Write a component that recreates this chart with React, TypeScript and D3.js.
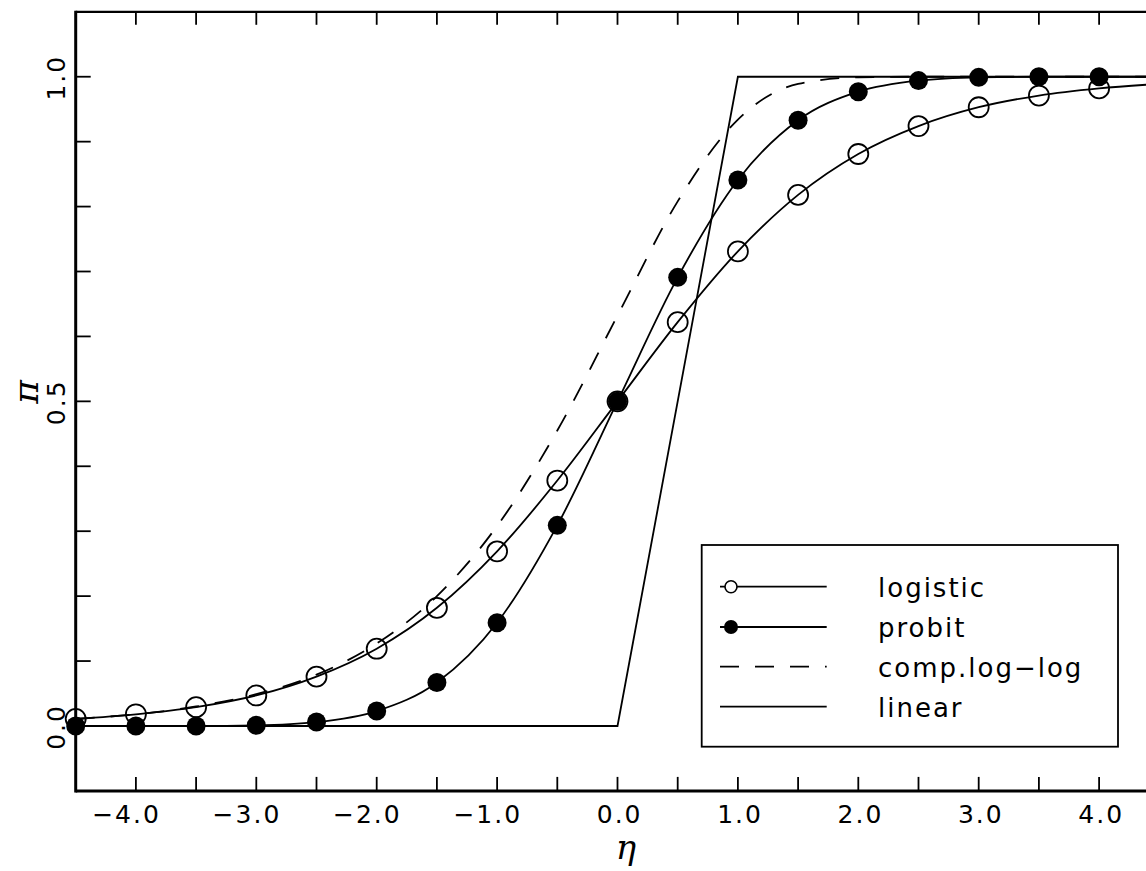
import React from 'react'
import * as d3 from 'd3'

// values, eta = -4.5 .. 4.5 in steps of 0.5
const etaValues = [-4.5, -4.0, -3.5, -3.0, -2.5, -2.0, -1.5, -1.0, -0.5, 0.0, 0.5, 1.0, 1.5, 2.0, 2.5, 3.0, 3.5, 4.0, 4.5]
const logisticValues = [0.011, 0.018, 0.029, 0.047, 0.076, 0.119, 0.182, 0.269, 0.378, 0.5, 0.622, 0.731, 0.818, 0.881, 0.924, 0.953, 0.971, 0.982, 0.989]
const probitValues = [0.0, 0.0, 0.0, 0.001, 0.006, 0.023, 0.067, 0.159, 0.309, 0.5, 0.691, 0.841, 0.933, 0.977, 0.994, 0.999, 1.0, 1.0, 1.0]
const cloglogValues = [0.011, 0.018, 0.030, 0.049, 0.079, 0.127, 0.200, 0.308, 0.455, 0.632, 0.808, 0.934, 0.989, 0.999, 1.0, 1.0, 1.0, 1.0, 1.0]
const linearEta = [-4.5, 0.0, 1.0, 4.5]
const linearValues = [0.0, 0.0, 1.0, 1.0]

// markers are drawn only up to 4.0 (4.5 falls outside the picture)
const markerEta = etaValues.filter(e => e <= 4.0)

const xMinorTicks = [-4.0, -3.5, -3.0, -2.5, -2.0, -1.5, -1.0, -0.5, 0.0, 0.5, 1.0, 1.5, 2.0, 2.5, 3.0, 3.5, 4.0]
const xLabelTicks = [-4, -3, -2, -1, 0, 1, 2, 3, 4]
const yMinorTicks = [0.0, 0.1, 0.2, 0.3, 0.4, 0.5, 0.6, 0.7, 0.8, 0.9, 1.0]
const yLabelTicks = [0.0, 0.5, 1.0]

const legendItems = ['logistic', 'probit', 'comp.log\u2212log', 'linear']

const W = 1146
const H = 871
const font = '"DejaVu Sans", sans-serif'
const dash = '19,16'

const App = () => {
    const x = d3.scaleLinear().domain([-4.5, 4.5]).range([75.7, 1159.3])
    const y = d3.scaleLinear().domain([-0.1, 1.1]).range([790.9, 11.8])

    const line = d3.line<[number, number]>()
        .x(d => x(d[0]))
        .y(d => y(d[1]))
        .curve(d3.curveMonotoneX)
    const straight = d3.line<[number, number]>()
        .x(d => x(d[0]))
        .y(d => y(d[1]))

    const zip = (xs: number[], ys: number[]) => xs.map((e, i) => [e, ys[i]] as [number, number])

    const fmt = (v: number) => (v < 0 ? '\u2212' : '') + Math.abs(v).toFixed(1)

    const left = x(-4.5)
    const right = x(4.5)
    const top = y(1.1)
    const bottom = y(-0.1)

    const legX = 701.7
    const legY = 545
    const legRows = [586.7, 627, 666.7, 706.7]

    return (
        <svg width={W} height={H} style={{ position: 'absolute', left: 0, top: 0, background: '#fff' }}>
            <rect x={0} y={0} width={W} height={H} fill="#fff" />

            {/* curves */}
            <path d={straight(zip(linearEta, linearValues)) || ''} fill="none" stroke="#000" strokeWidth={1.8} />
            <path d={line(zip(etaValues, cloglogValues)) || ''} fill="none" stroke="#000" strokeWidth={1.8} strokeDasharray={dash} />
            <path d={line(zip(etaValues, logisticValues)) || ''} fill="none" stroke="#000" strokeWidth={1.8} />
            <path d={line(zip(etaValues, probitValues)) || ''} fill="none" stroke="#000" strokeWidth={1.8} />

            {markerEta.map((e, i) => (
                <circle key={'l' + i} cx={x(e)} cy={y(logisticValues[i])} r={10} fill="none" stroke="#000" strokeWidth={1.8} />
            ))}
            {markerEta.map((e, i) => (
                <circle key={'p' + i} cx={x(e)} cy={y(probitValues[i])} r={9.5} fill="#000" />
            ))}

            {/* frame */}
            <line x1={left} x2={right + 5} y1={top} y2={top} stroke="#000" strokeWidth={2.2} />
            <line x1={left} x2={right + 5} y1={bottom} y2={bottom} stroke="#000" strokeWidth={3} />
            <line x1={left} x2={left} y1={top - 1} y2={bottom + 1.5} stroke="#000" strokeWidth={3} />

            {xMinorTicks.map(t => (
                <g key={'xt' + t}>
                    <line x1={x(t)} x2={x(t)} y1={bottom} y2={bottom - 14} stroke="#000" strokeWidth={1.8} />
                    <line x1={x(t)} x2={x(t)} y1={top} y2={top + 13} stroke="#000" strokeWidth={1.8} />
                </g>
            ))}
            {yMinorTicks.map(t => (
                <line key={'yt' + t} x1={left} x2={left + 15} y1={y(t)} y2={y(t)} stroke="#000" strokeWidth={1.8} />
            ))}

            {xLabelTicks.map(t => (
                <text key={'xl' + t} x={x(t) + 25} y={823} textAnchor="end" fontFamily={font} fontSize={25} letterSpacing={2}>
                    {fmt(t)}
                </text>
            ))}
            {yLabelTicks.map(t => (
                <text key={'yl' + t} transform={`translate(65,${y(t) + 1}) rotate(-90)`} textAnchor="middle" fontFamily={font} fontSize={25} letterSpacing={2}>
                    {fmt(t)}
                </text>
            ))}

            {/* axis titles */}
            <text x={626} y={859} textAnchor="middle" fontFamily='"DejaVu Serif", serif' fontStyle="italic" fontSize={34}>η</text>
            <text transform={`translate(38,392) rotate(-90)`} textAnchor="middle" fontFamily='"DejaVu Serif", serif' fontStyle="italic" fontSize={36}>π</text>

            {/* legend */}
            <rect x={legX} y={legY} width={1118 - legX} height={746.7 - legY} fill="#fff" stroke="#000" strokeWidth={1.8} />
            {legendItems.map((name, i) => (
                <g key={name}>
                    <line x1={720} x2={826.7} y1={legRows[i]} y2={legRows[i]} stroke="#000" strokeWidth={1.8}
                        strokeDasharray={i === 2 ? dash : undefined} />
                    <text x={878} y={legRows[i] + 10} fontFamily={font} fontSize={26} letterSpacing={2}>{name}</text>
                </g>
            ))}
            <circle cx={731} cy={legRows[0]} r={6} fill="#fff" stroke="#000" strokeWidth={1.6} />
            <circle cx={731} cy={legRows[1]} r={7} fill="#000" />
        </svg>
    )
}

export default App
